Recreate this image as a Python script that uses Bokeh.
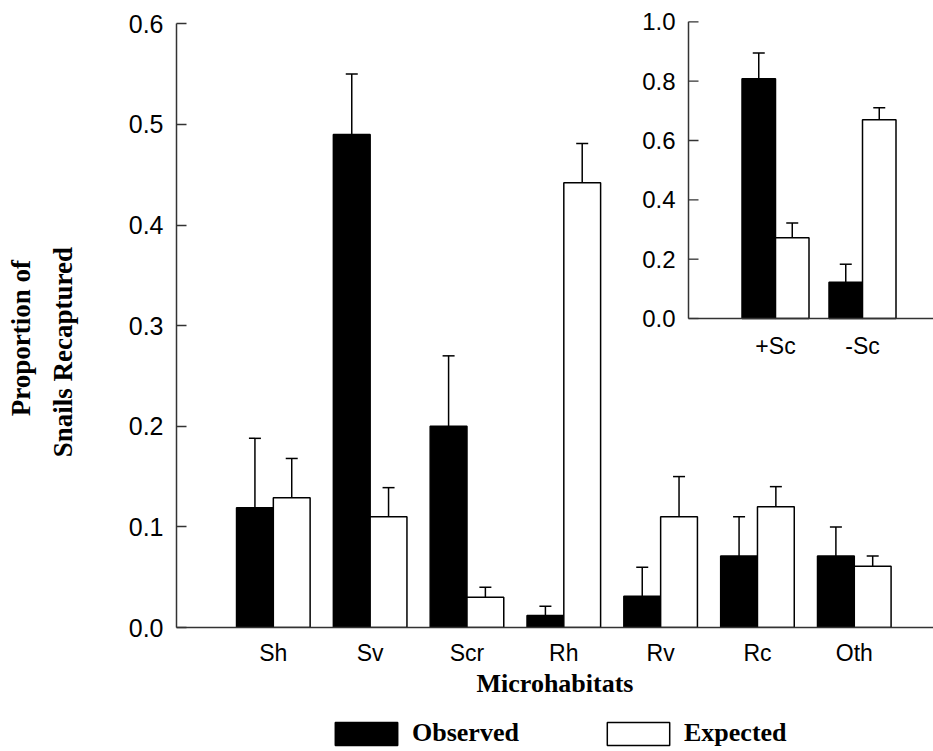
import numpy as np
from bokeh.plotting import figure
from bokeh.layouts import column, row
from bokeh.models import (ColumnDataSource, Range1d, FixedTicker, Whisker, TeeHead,
                          Legend, LegendItem, NumeralTickFormatter)
from bokeh.core.properties import value
from bokeh.embed import file_html
from bokeh.resources import INLINE

# ---- main panel data ----
categories = ["Sh", "Sv", "Scr", "Rh", "Rv", "Rc", "Oth"]
observed = [0.119, 0.49, 0.20, 0.012, 0.031, 0.071, 0.071]
observed_se = [0.069, 0.06, 0.07, 0.009, 0.029, 0.039, 0.029]
expected = [0.129, 0.11, 0.03, 0.442, 0.110, 0.120, 0.061]
expected_se = [0.039, 0.029, 0.010, 0.039, 0.040, 0.020, 0.010]
main_ticks = [0.0, 0.1, 0.2, 0.3, 0.4, 0.5, 0.6]

# ---- inset data ----
inset_categories = ["+Sc", "-Sc"]
inset_observed = [0.808, 0.122]
inset_observed_se = [0.087, 0.061]
inset_expected = [0.272, 0.670]
inset_expected_se = [0.050, 0.040]
inset_ticks = [0.0, 0.2, 0.4, 0.6, 0.8, 1.0]

y_title_lines = ["Proportion of", "Snails Recaptured"]
series_names = ["Observed", "Expected"]

SANS = "Liberation Sans"
SERIF = "Liberation Serif"
AXIS_COLOR = "#333333"
BW = 0.38
MAIN_H = 705
LEG_H = 44
YT_W = 100


def bare_figure(w, h):
    f = figure(width=w, height=h, output_backend="svg", toolbar_location=None,
               x_range=Range1d(0, w), y_range=Range1d(0, h), min_border=0)
    f.axis.visible = False
    f.grid.visible = False
    f.outline_line_color = None
    return f


# ---------------- main figure ----------------
p = figure(width=933 - YT_W, height=MAIN_H, output_backend="svg", toolbar_location=None,
           x_range=Range1d(0, 7.818), y_range=Range1d(0, 0.6182),
           min_border_left=176 - YT_W, min_border_right=0, min_border_top=5,
           min_border_bottom=MAIN_H - 627)
p.grid.visible = False
p.outline_line_color = None
p.background_fill_color = "white"

xs = np.arange(1, len(categories) + 1)
src_obs = ColumnDataSource(dict(x=xs - BW / 2, top=observed,
                                upper=np.array(observed) + np.array(observed_se)))
src_exp = ColumnDataSource(dict(x=xs + BW / 2, top=expected,
                                upper=np.array(expected) + np.array(expected_se)))

OBS_STYLE = dict(fill_color="black", line_color="black", line_width=1.5)
EXP_STYLE = dict(fill_color="white", line_color="black", line_width=1.5)

p.vbar(x="x", top="top", width=BW, source=src_obs, **OBS_STYLE)
p.vbar(x="x", top="top", width=BW, source=src_exp, **EXP_STYLE)
for s in (src_obs, src_exp):
    p.add_layout(Whisker(source=s, base="x", lower="top", upper="upper", dimension="height",
                         line_color="black", line_width=1.5, lower_head=None,
                         upper_head=TeeHead(size=12, line_color="black", line_width=1.5)))

xa = p.xaxis[0]
xa.ticker = FixedTicker(ticks=list(xs))
xa.major_label_overrides = {int(x): c for x, c in zip(xs, categories)}
xa.major_tick_line_color = None
xa.minor_tick_line_color = None
xa.axis_line_color = AXIS_COLOR
xa.axis_line_width = 1.5
xa.major_label_text_font = SANS
xa.major_label_text_font_size = "23px"
xa.major_label_text_color = "black"
xa.major_label_standoff = 6
xa.axis_label = "Microhabitats"
xa.axis_label_text_font = SERIF
xa.axis_label_text_font_style = "bold"
xa.axis_label_text_font_size = "26px"
xa.axis_label_text_color = "black"
xa.axis_label_standoff = 0

ya = p.yaxis[0]
ya.bounds = (main_ticks[0], main_ticks[-1])
ya.ticker = FixedTicker(ticks=main_ticks)
ya.formatter = NumeralTickFormatter(format="0.0")
ya.major_tick_in = 10
ya.major_tick_out = 0
ya.minor_tick_line_color = None
ya.axis_line_color = AXIS_COLOR
ya.axis_line_width = 1.5
ya.major_tick_line_color = AXIS_COLOR
ya.major_tick_line_width = 1.3
ya.major_label_text_font = SANS
ya.major_label_text_font_size = "25px"
ya.major_label_text_color = "black"
ya.major_label_standoff = 13

# ---- inset on extra ranges ----
INSET_END = 2.816
p.extra_x_ranges = {"ix": Range1d(-5.885, INSET_END)}
p.extra_y_ranges = {"iy": Range1d(-1.0414, 1.055)}
IBW = 0.385
ixs = np.arange(1, len(inset_categories) + 1)
isrc_obs = ColumnDataSource(dict(x=ixs - IBW / 2, top=inset_observed,
                                 upper=np.array(inset_observed) + np.array(inset_observed_se)))
isrc_exp = ColumnDataSource(dict(x=ixs + IBW / 2, top=inset_expected,
                                 upper=np.array(inset_expected) + np.array(inset_expected_se)))
p.vbar(x="x", top="top", width=IBW, source=isrc_obs, x_range_name="ix", y_range_name="iy",
       **OBS_STYLE)
p.vbar(x="x", top="top", width=IBW, source=isrc_exp, x_range_name="ix", y_range_name="iy",
       **EXP_STYLE)
for s in (isrc_obs, isrc_exp):
    p.add_layout(Whisker(source=s, base="x", lower="top", upper="upper", dimension="height",
                         line_color="black", line_width=1.5, lower_head=None,
                         upper_head=TeeHead(size=12, line_color="black", line_width=1.5),
                         x_range_name="ix", y_range_name="iy"))

p.segment(x0=[0, 0], y0=[0, 0], x1=[0, INSET_END], y1=[inset_ticks[-1], 0],
          line_color=AXIS_COLOR, line_width=1.5, x_range_name="ix", y_range_name="iy")
p.ray(x=[0] * len(inset_ticks), y=inset_ticks, length=10, length_units="screen", angle=0,
      line_color=AXIS_COLOR, line_width=1.3, x_range_name="ix", y_range_name="iy")
p.text(x=[0] * len(inset_ticks), y=inset_ticks, text=[f"{t:.1f}" for t in inset_ticks],
       x_offset=-13, text_align="right", text_baseline="middle",
       text_font=value(SANS), text_font_size="24px", text_color="black",
       x_range_name="ix", y_range_name="iy")
p.text(x=list(ixs), y=[0] * len(ixs), text=inset_categories, y_offset=27,
       text_align="center", text_baseline="middle",
       text_font=value(SANS), text_font_size="23px", text_color="black",
       x_range_name="ix", y_range_name="iy")

# ---------------- y title strip ----------------
yt = bare_figure(YT_W, MAIN_H)
yt.text(x=[20, 62], y=[328, 312], text=y_title_lines, angle=np.pi / 2,
        text_align="center", text_baseline="alphabetic",
        text_font=value(SERIF), text_font_style="bold", text_font_size="27px",
        text_color="black")

# ---------------- legend strip ----------------
lg = bare_figure(933, LEG_H)
swatch = dict(x=np.array([np.nan]), top=np.array([np.nan]))
r1 = lg.vbar(x="x", top="top", width=1, source=ColumnDataSource(dict(swatch)), **OBS_STYLE)
r2 = lg.vbar(x="x", top="top", width=1, source=ColumnDataSource(dict(swatch)), **EXP_STYLE)
legend = Legend(items=[LegendItem(label=series_names[0], renderers=[r1]),
                       LegendItem(label=series_names[1], renderers=[r2])],
                orientation="horizontal", location=(327, 1),
                glyph_width=78, glyph_height=29, label_standoff=7,
                label_width=110, spacing=77, padding=0, margin=0,
                border_line_color=None, background_fill_alpha=0,
                label_text_font=SERIF, label_text_font_style="bold",
                label_text_font_size="26px", label_text_color="black")
lg.add_layout(legend, "center")

layout = column(row(yt, p, spacing=0), lg, spacing=0)
open("out.html", "w").write(file_html(layout, INLINE))
